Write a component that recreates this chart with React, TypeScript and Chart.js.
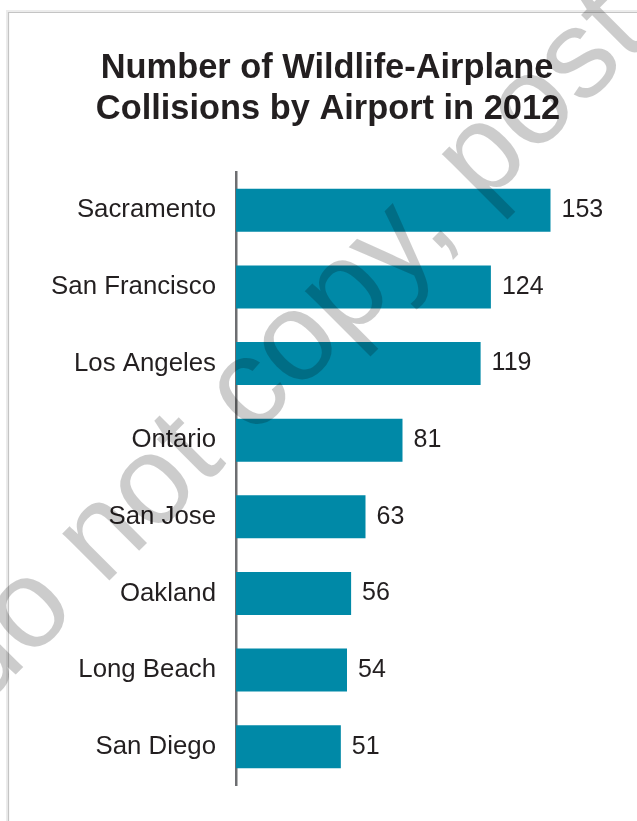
import React, { useEffect, useRef } from "react";
import { Chart, registerables } from "chart.js";

Chart.register(...registerables);

const titleLines = ["Number of Wildlife-Airplane", "Collisions by Airport in 2012"];
const airports = ["Sacramento", "San Francisco", "Los Angeles", "Ontario", "San Jose", "Oakland", "Long Beach", "San Diego"];
const collisions = [153, 124, 119, 81, 63, 56, 54, 51];
const watermarkText = "do not copy, post";

const FONT = '"Liberation Sans", Arial, Helvetica, sans-serif';
const TEXT = "#231f20";
const BAR = "#0089a7";

const framePlugin = {
  id: "frame",
  beforeDraw(chart: any) {
    const ctx = chart.ctx;
    const w = chart.width, h = chart.height;
    ctx.save();
    ctx.strokeStyle = "#ececec";
    ctx.lineWidth = 2;
    ctx.beginPath();
    ctx.moveTo(7, h);
    ctx.lineTo(7, 11);
    ctx.lineTo(w, 11);
    ctx.stroke();
    ctx.strokeStyle = "#c4c4c4";
    ctx.lineWidth = 1.2;
    ctx.beginPath();
    ctx.moveTo(8.5, h);
    ctx.lineTo(8.5, 12.5);
    ctx.lineTo(w, 12.5);
    ctx.stroke();
    ctx.restore();
  },
};

const titlePlugin = {
  id: "customTitle",
  afterDraw(chart: any) {
    const ctx = chart.ctx;
    ctx.save();
    ctx.fillStyle = TEXT;
    ctx.font = `bold 34.4px ${FONT}`;
    ctx.textAlign = "center";
    ctx.textBaseline = "alphabetic";
    ctx.fillText(titleLines[0], 327, 78);
    ctx.fillText(titleLines[1], 328, 119);
    ctx.restore();
  },
};

const valueLabelPlugin = {
  id: "valueLabels",
  afterDatasetsDraw(chart: any) {
    const ctx = chart.ctx;
    const meta = chart.getDatasetMeta(0);
    ctx.save();
    ctx.fillStyle = TEXT;
    ctx.font = `25px ${FONT}`;
    ctx.textAlign = "left";
    ctx.textBaseline = "middle";
    meta.data.forEach((bar: any, i: number) => {
      ctx.fillText(String(collisions[i]), bar.x + 11, bar.y);
    });
    ctx.restore();
  },
};

const watermarkPlugin = {
  id: "watermark",
  afterDraw(chart: any) {
    const ctx = chart.ctx;
    ctx.save();
    ctx.rotate(-Math.PI / 4);
    ctx.fillStyle = "rgba(0,0,0,0.2)";
    ctx.font = `126px ${FONT}`;
    ctx.textAlign = "left";
    ctx.textBaseline = "alphabetic";
    ctx.fillText(watermarkText, -517, 488);
    ctx.restore();
  },
};

export default function App() {
  const ref = useRef<HTMLCanvasElement | null>(null);
  useEffect(() => {
    if (!ref.current) return;
    const chart = new Chart(ref.current, {
      type: "bar",
      data: {
        labels: airports,
        datasets: [
          {
            data: collisions,
            backgroundColor: BAR,
            borderWidth: 0,
            categoryPercentage: 1,
            barPercentage: 0.56,
          },
        ],
      },
      options: {
        indexAxis: "y",
        responsive: false,
        animation: false,
        layout: { padding: { left: 0, right: 31, top: 172, bottom: 36 } },
        plugins: {
          legend: { display: false },
          title: { display: false },
          tooltip: { enabled: false },
        },
        scales: {
          x: { display: false, min: 0, max: 180 },
          y: {
            afterFit(scale: any) {
              scale.width = 236;
            },
            grid: { display: false, drawTicks: false },
            border: { display: true, color: "#6d6e71", width: 2.5 },
            ticks: {
              padding: 20,
              color: TEXT,
              font: { family: FONT, size: 25.8 },
            },
          },
        },
      },
      plugins: [framePlugin, valueLabelPlugin, titlePlugin, watermarkPlugin],
    });
    return () => chart.destroy();
  }, []);
  return (
    <div style={{ position: "fixed", left: 0, top: 0, width: 637, height: 821, background: "#fff" }}>
      <canvas ref={ref} width={637} height={821} style={{ display: "block" }} />
    </div>
  );
}
